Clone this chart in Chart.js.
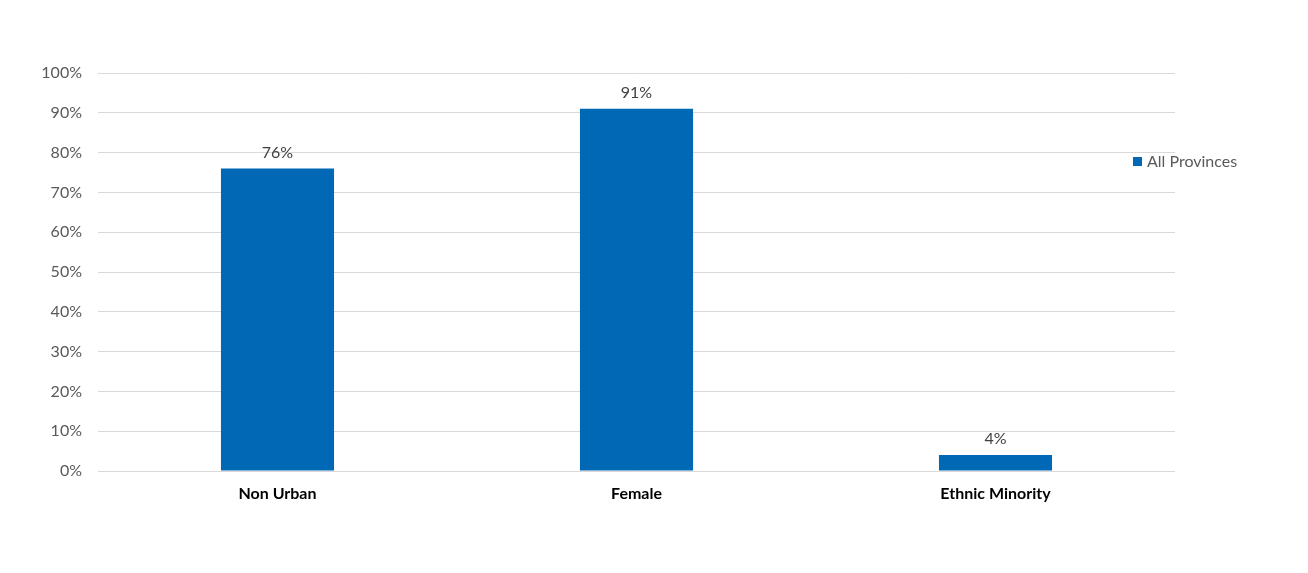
<!DOCTYPE html>
<html><head><meta charset="utf-8">
<script src="https://cdn.jsdelivr.net/npm/chart.js@4"></script>
<style>html,body{margin:0;padding:0;background:#fff}#wrap{width:1308px;height:573px}</style>
</head><body><div id="wrap"><canvas id="c" width="1308" height="573"></canvas></div>
<script>
const categories = ["Non Urban", "Female", "Ethnic Minority"];
const seriesName = "All Provinces";
const values = [76, 91, 4];
const yTicks = [0, 10, 20, 30, 40, 50, 60, 70, 80, 90, 100];
const barColor = "#0068B5";
const FONT = "Lato, 'Open Sans', sans-serif";

const labelPlugin = {
  id: 'valLabels',
  afterDatasetsDraw(chart) {
    const ctx = chart.ctx;
    const meta = chart.getDatasetMeta(0);
    ctx.save();
    ctx.font = "16px " + FONT;
    ctx.fillStyle = "#404040";
    ctx.textAlign = "center";
    ctx.textBaseline = "bottom";
    meta.data.forEach((el, i) => {
      ctx.fillText(values[i] + "%", el.x, el.y - 8);
    });
    ctx.restore();
  }
};
const legendPlugin = {
  id: 'customLegend',
  afterDraw(chart) {
    const ctx = chart.ctx;
    const x = chart.chartArea.right - 42;
    const y = 162;
    ctx.save();
    ctx.fillStyle = barColor;
    ctx.fillRect(x, y - 5, 9, 9);
    ctx.font = "16px " + FONT;
    ctx.fillStyle = "#595959";
    ctx.textAlign = "left";
    ctx.textBaseline = "middle";
    ctx.fillText(seriesName, x + 14, y);
    ctx.restore();
  }
};

new Chart(document.getElementById('c'), {
  type: 'bar',
  data: {
    labels: categories,
    datasets: [{ label: seriesName, data: values, backgroundColor: barColor,
      categoryPercentage: 1, barPercentage: 0.315 }]
  },
  options: {
    responsive: false, animation: false,
    layout: { padding: { top: 73, right: 133, left: 1, bottom: 0 } },
    plugins: { legend: { display: false }, tooltip: { enabled: false } },
    scales: {
      x: {
        grid: { display: false, drawTicks: false },
        border: { display: false },
        ticks: { color: "#000", font: { family: FONT, size: 16, weight: 'bold' }, padding: 13 },
        afterFit(s) { s.height = 102; }
      },
      y: {
        min: 0, max: 100,
        afterBuildTicks(s) { s.ticks = yTicks.map(v => ({ value: v })); },
        grid: { color: "#d9d9d9", drawTicks: false },
        border: { display: false },
        ticks: { color: "#595959", font: { family: FONT, size: 16 }, padding: 16,
          callback: v => v + "%" },
        afterFit(s) { s.width = 97; }
      }
    }
  },
  plugins: [labelPlugin, legendPlugin]
});
</script></body></html>
